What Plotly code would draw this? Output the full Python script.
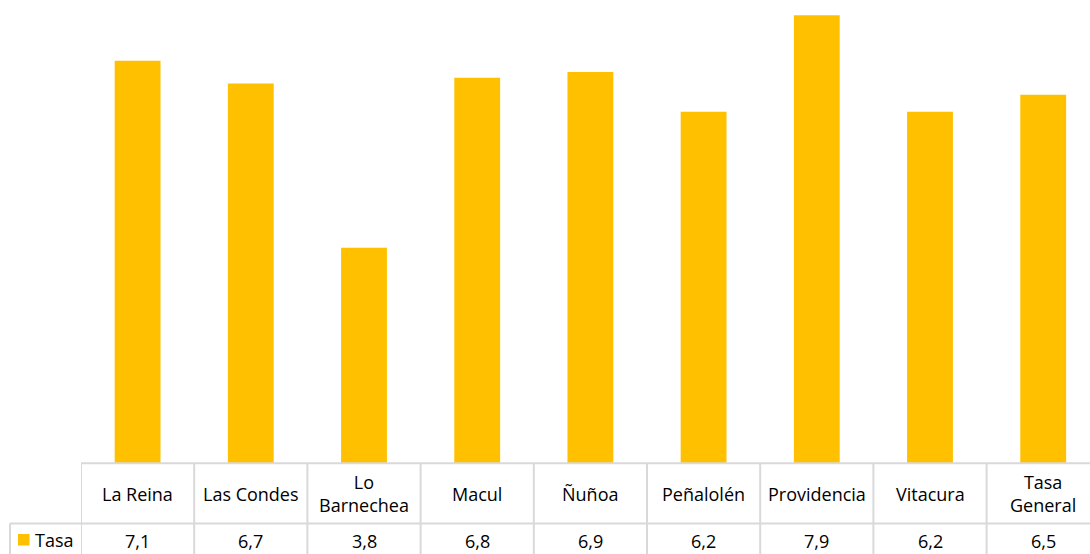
import plotly.graph_objects as go

categories = ["La Reina", "Las Condes", "Lo<br>Barnechea", "Macul", "Ñuñoa",
              "Peñalolén", "Providencia", "Vitacura", "Tasa<br>General"]
values = [7.1, 6.7, 3.8, 6.8, 6.9, 6.2, 7.9, 6.2, 6.5]
series_name = "Tasa"

W, H = 1090, 554
BAR = "#FFC000"
GRID = "#D9D9D9"
FONT = "Open Sans"
FS = 18

def px(x):
    return x / W

def py(y):
    return 1 - y / H

plot_left = 81
col_w = 113.2
plot_bottom = 463.3
row_div = 523.5
n = len(categories)
x_max = -0.5 + (W - plot_left) / col_w

fig = go.Figure()
fig.add_trace(go.Bar(
    x=list(range(n)), y=values, name=series_name,
    marker=dict(color=BAR, line=dict(width=0)),
    hoverinfo="skip",
))

shapes = []
shapes.append(dict(type="line", xref="paper", yref="paper",
                   x0=px(plot_left), x1=1, y0=py(plot_bottom), y1=py(plot_bottom),
                   line=dict(color=GRID, width=2)))
shapes.append(dict(type="line", xref="paper", yref="paper",
                   x0=px(10), x1=1, y0=py(row_div), y1=py(row_div),
                   line=dict(color=GRID, width=2)))
for i in range(n):
    shapes.append(dict(type="line", xref="x", yref="paper",
                       x0=i - 0.5, x1=i - 0.5, y0=py(plot_bottom), y1=0,
                       line=dict(color=GRID, width=2)))
shapes.append(dict(type="line", xref="paper", yref="paper",
                   x0=px(10), x1=px(10), y0=py(row_div), y1=0,
                   line=dict(color=GRID, width=2)))
shapes.append(dict(type="rect", xref="paper", yref="paper",
                   x0=px(18), x1=px(29.5), y0=py(545.5), y1=py(534),
                   fillcolor=BAR, line=dict(width=0)))

annotations = []
for i, c in enumerate(categories):
    annotations.append(dict(x=i, y=py((plot_bottom + row_div) / 2 + 0.5),
                            xref="x", yref="paper", text=c, showarrow=False,
                            xanchor="center", yanchor="middle",
                            font=dict(family=FONT, size=FS, color="#000000")))
    annotations.append(dict(x=i, y=py(541), xref="x", yref="paper",
                            text=f"{values[i]:.1f}".replace(".", ","),
                            showarrow=False, xanchor="center", yanchor="middle",
                            font=dict(family=FONT, size=FS, color="#000000")))
annotations.append(dict(x=px(33), y=py(540), xref="paper", yref="paper",
                        text=series_name, showarrow=False, xanchor="left",
                        yanchor="middle",
                        font=dict(family=FONT, size=FS, color="#000000")))

fig.update_layout(
    width=W, height=H,
    margin=dict(l=0, r=0, t=0, b=0),
    paper_bgcolor="white", plot_bgcolor="white",
    showlegend=False,
    bargap=0.595,
    xaxis=dict(domain=[px(plot_left), 1], range=[-0.5, x_max], visible=False,
               fixedrange=True),
    yaxis=dict(domain=[py(plot_bottom), 1], range=[0, plot_bottom / 56.7],
               visible=False, fixedrange=True),
    shapes=shapes,
    annotations=annotations,
)

fig.write_html("out.html", config={"displayModeBar": False},
               post_script="document.body.style.margin='0px';document.body.style.overflow='hidden';")
